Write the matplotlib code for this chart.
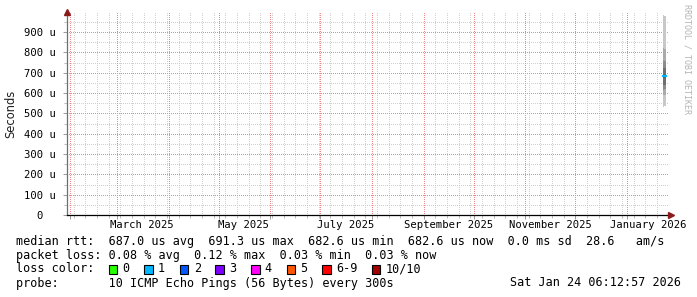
import numpy as np
import pandas as pd
import matplotlib
matplotlib.use("Agg")
import matplotlib.pyplot as plt
import matplotlib.dates as mdates
from matplotlib.ticker import FixedLocator
from matplotlib.patches import Rectangle

# time window of the graph (one year view)
x_start = pd.Timestamp("2025-01-30 00:30")
x_end = pd.Timestamp("2026-01-25 14:00")

# smoke data: two daily bins at the very end, 10 sorted pings each (microseconds)
bin_starts = ["2026-01-22 10:00", "2026-01-23 10:00"]
bin_end = "2026-01-24 10:00"
pings_us = [
    [531, 590, 615, 640, 672, 690, 723, 760, 821, 984],
    [536, 592, 618, 642, 674, 692, 721, 756, 816, 980],
]
median_us = [685, 684]

y_ticks_us = [0, 100, 200, 300, 400, 500, 600, 700, 800, 900]
y_tick_labels = ["0  ", "100 u", "200 u", "300 u", "400 u", "500 u",
                 "600 u", "700 u", "800 u", "900 u"]
month_labels = ["March 2025", "May 2025", "July 2025", "September 2025",
                "November 2025", "January 2026"]
month_label_dates = ["2025-03-16", "2025-05-16", "2025-07-16", "2025-09-16",
                     "2025-11-16", "2026-01-14"]

legend_rows = [
    "median rtt:  687.0 us avg  691.3 us max  682.6 us min  682.6 us now  0.0 ms sd  28.6   am/s",
    "packet loss: 0.08 % avg  0.12 % max  0.03 % min  0.03 % now",
]
loss_names = ["0", "1", "2", "3", "4", "5", "6-9", "10/10"]
loss_colors = ["#26ff00", "#00b8ff", "#0059ff", "#7e00ff", "#ff00ff",
               "#ff5500", "#ff0000", "#a10000"]
probe_text = "probe:       10 ICMP Echo Pings (56 Bytes) every 300s"
stamp_text = "Sat Jan 24 06:12:57 2026"

W, H = 697, 297
fig = plt.figure(figsize=(W / 100, H / 100), dpi=100)
fig.patch.set_facecolor("white")
ax = fig.add_axes([67 / W, 1 - 215 / H, 601 / W, 203 / H])

mono = "DejaVu Sans Mono"

# smoke
xs = pd.to_datetime(bin_starts + [bin_end])
p = np.array(pings_us, dtype=float) * 1e-6
p = np.vstack([p, p[-1:]])
shades = {0: "#5c5c5c", 1: "#6f6f6f", 2: "#8c8c8c", 3: "#aaaaaa", 4: "#c8c8c8"}
for j in range(p.shape[1] - 1):
    d = abs(j - 4)
    ax.fill_between(xs, p[:, j], p[:, j + 1], step="post",
                    color=shades[d], linewidth=0, zorder=3)
med = np.array(median_us + median_us[-1:], dtype=float) * 1e-6
ax.step(xs, med, where="post", color=loss_colors[1], lw=1.6, zorder=4)

ax.set_xlim(x_start, x_end)
ax.set_ylim(0, 999e-6)

# ticks
ax.xaxis.set_major_locator(mdates.MonthLocator())
ax.xaxis.set_minor_locator(mdates.WeekdayLocator(byweekday=mdates.MO))
ax.xaxis.set_major_formatter(plt.NullFormatter())
ax.yaxis.set_major_locator(FixedLocator(np.array(y_ticks_us) * 1e-6))
ax.yaxis.set_minor_locator(FixedLocator(np.arange(50, 1000, 100) * 1e-6))
ax.set_yticklabels(y_tick_labels, fontfamily=mono, fontsize=7.6)
ax.tick_params(which="major", length=3, width=0.7, color="#999999", pad=2)
ax.tick_params(which="minor", length=2, width=0.7, color="#bbbbbb")
ax.tick_params(axis="y", pad=5)

# dotted grid drawn from the axis locators (rrdtool style)
ylo, yhi = ax.get_ylim()
xlo, xhi = ax.get_xlim()
grid_sets = [
    (ax.xaxis.get_minorticklocs(), "v", "#d0d0d0"),
    (ax.yaxis.get_minorticklocs(), "h", "#d0d0d0"),
    (ax.xaxis.get_majorticklocs(), "v", "#f08a8a"),
    (ax.yaxis.get_majorticklocs()[1:], "h", "#f08a8a"),
]
for locs, kind, c in grid_sets:
    if kind == "v":
        ax.vlines(locs, ylo, yhi, colors=c, linewidth=0.72, linestyles=":",
                  antialiased=False, zorder=1)
    else:
        ax.hlines(locs, xlo, xhi, colors=c, linewidth=0.72, linestyles=":",
                  antialiased=False, zorder=1)
ax.set_xlim(xlo, xhi)
ax.set_ylim(ylo, yhi)

for s in ["top", "right"]:
    ax.spines[s].set_visible(False)
ax.spines["left"].set_color("#6e6e6e")
ax.spines["bottom"].set_color("black")
ax.spines["left"].set_linewidth(0.9)
ax.spines["bottom"].set_linewidth(0.9)

ax.plot([0], [1.0], marker="^", ms=4.5, color="#8b1a1a",
        transform=ax.transAxes, clip_on=False, zorder=6)
ax.plot([1.005], [0], marker=">", ms=4.5, color="#8b1a1a",
        transform=ax.transAxes, clip_on=False, zorder=6)

# month labels
for lab, d in zip(month_labels, month_label_dates):
    ax.text(pd.Timestamp(d), -0.05, lab, transform=ax.get_xaxis_transform(),
            ha="center", va="center", fontfamily=mono, fontsize=7.6)

fig.text(11 / W, 1 - 114 / H, "Seconds", rotation=90, ha="center",
         va="center", fontsize=8.3, color="#202020")
fig.text(687 / W, 1 - 4 / H, "RRDTOOL / TOBI OETIKER", rotation=270,
         ha="center", va="top", fontfamily=mono, fontsize=6, color="#b4b4b4")

# legend
cw = 0.602 * 8.5 * 100 / 72
x0 = 16
rows_y = [241, 255, 269, 283]
for txt, yy in zip(legend_rows, rows_y[:2]):
    fig.text(x0 / W, 1 - yy / H, txt, ha="left", va="center",
             fontfamily=mono, fontsize=8.5)
fig.text(x0 / W, 1 - rows_y[2] / H, "loss color:", ha="left", va="center",
         fontfamily=mono, fontsize=8.5)
col = 13
for name, c in zip(loss_names, loss_colors):
    bx = x0 + col * cw + 0.5
    fig.patches.append(Rectangle((bx / W, (H - rows_y[2] - 4.5) / H),
                                 8.5 / W, 9 / H, transform=fig.transFigure,
                                 facecolor=c, edgecolor="black", lw=0.8))
    fig.text((x0 + (col + 2) * cw) / W, 1 - rows_y[2] / H, name, ha="left",
             va="center", fontfamily=mono, fontsize=8.5)
    col += len(name) + 4
fig.text(x0 / W, 1 - rows_y[3] / H, probe_text, ha="left", va="center",
         fontfamily=mono, fontsize=8.5)
fig.text(681 / W, 1 - rows_y[3] / H, stamp_text, ha="right", va="center",
         fontfamily=mono, fontsize=8.5)

fig.savefig("out.png", dpi=100, facecolor="white")
